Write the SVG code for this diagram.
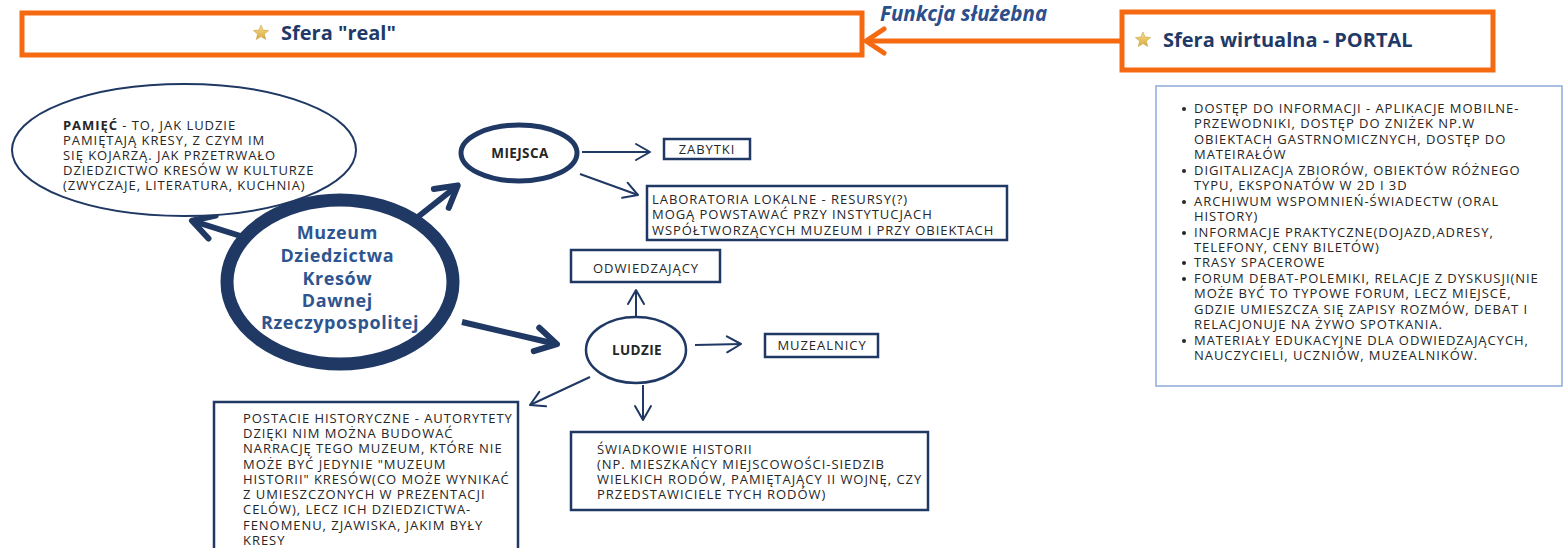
<svg xmlns="http://www.w3.org/2000/svg" width="1564" height="548" viewBox="0 0 1564 548">
<style>
.body{font-family:"Open Sans","Liberation Sans",sans-serif;font-size:13px;letter-spacing:0.95px;fill:#262626}
.bold{font-weight:bold}
.box{fill:#fff;stroke:#1F3864;stroke-width:2.5}
.orange{fill:#fff;stroke:#F56A10;stroke-width:5}
.title{font-family:"Open Sans","Liberation Sans",sans-serif;font-size:20px;font-weight:bold;fill:#1F3A68}
.circ{font-family:"Open Sans","Liberation Sans",sans-serif;font-size:18px;letter-spacing:0.6px;font-weight:bold;fill:#2E5590;text-anchor:middle}
.thin{stroke:#1F3864;stroke-width:2;fill:none;marker-end:url(#mthin)}
.thick{stroke:#1F3864;stroke-width:6;fill:none;marker-end:url(#mthick)}
</style>
<defs>
<linearGradient id="gstar" x1="0" y1="0" x2="0" y2="1"><stop offset="0" stop-color="#F7DF8A"/><stop offset="1" stop-color="#D9A940"/></linearGradient>
<path id="star" d="M0,-8 L2.12,-2.91 L7.61,-2.47 L3.42,1.11 L4.7,6.47 L0,3.6 L-4.7,6.47 L-3.42,1.11 L-7.61,-2.47 L-2.12,-2.91 Z" fill="url(#gstar)" stroke="#C9A24A" stroke-width="0.6"/>
<marker id="mthin" markerUnits="userSpaceOnUse" viewBox="0 0 20 20" markerWidth="20" markerHeight="20" refX="17" refY="10" orient="auto"><path d="M3,2 L17,10 L3,18" fill="none" stroke="#1F3864" stroke-width="2" stroke-linecap="round" stroke-linejoin="round"/></marker>
<marker id="mthick" markerUnits="userSpaceOnUse" viewBox="0 0 32 32" markerWidth="32" markerHeight="32" refX="26" refY="16" orient="auto"><path d="M6,4 L27,16 L6,28" fill="none" stroke="#1F3864" stroke-width="6" stroke-linecap="round" stroke-linejoin="round"/></marker>
<marker id="morange" markerUnits="userSpaceOnUse" viewBox="0 0 28 30" markerWidth="28" markerHeight="30" refX="22" refY="15" orient="auto"><path d="M4,3 L22,15 L4,27" fill="none" stroke="#F56A10" stroke-width="5" stroke-linecap="round" stroke-linejoin="round"/></marker>
</defs>
<rect width="1564" height="548" fill="#fff"/>

<g id="connectors">
<line x1="1122" y1="41" x2="866" y2="41" stroke="#F56A10" stroke-width="5" marker-end="url(#morange)"/>
<line class="thick" x1="250" y1="239" x2="193" y2="221"/>
<line class="thick" x1="414" y1="220" x2="457" y2="186"/>
<line class="thick" x1="462" y1="322" x2="556" y2="344"/>
<line class="thin" x1="582" y1="152" x2="650" y2="152"/>
<line class="thin" x1="580" y1="174" x2="638" y2="195"/>
<line class="thin" x1="636" y1="318" x2="636" y2="290"/>
<line class="thin" x1="695" y1="345" x2="741" y2="344"/>
<line class="thin" x1="590" y1="377" x2="530" y2="405"/>
<line class="thin" x1="643" y1="385" x2="643" y2="420"/>
</g>
<text x="880" y="21" class="title" style="font-style:italic;fill:#2B4F8C;font-size:20.5px">Funkcja służebna</text>

<g id="sfera-real">
<rect class="orange" x="22" y="13" width="840" height="42"/>
<use href="#star" x="261" y="33"/>
<text x="281" y="40" class="title">Sfera "real"</text>
</g>

<g id="sfera-wirtualna">
<rect class="orange" x="1122" y="12" width="371" height="58"/>
<use href="#star" x="1143" y="40"/>
<text x="1163" y="47" class="title">Sfera wirtualna - PORTAL</text>
</g>

<g id="pamiec">
<ellipse cx="184" cy="150" rx="172" ry="66" fill="#fff" stroke="#1F3864" stroke-width="2"/>
<text class="body">
<tspan x="63" y="130"><tspan class="bold">PAMIĘĆ</tspan> - TO, JAK LUDZIE</tspan>
<tspan x="63" y="145">PAMIĘTAJĄ KRESY, Z CZYM IM</tspan>
<tspan x="63" y="160">SIĘ KOJARZĄ. JAK PRZETRWAŁO</tspan>
<tspan x="63" y="175">DZIEDZICTWO KRESÓW W KULTURZE</tspan>
<tspan x="63" y="190">(ZWYCZAJE, LITERATURA, KUCHNIA)</tspan>
</text>
</g>

<g id="muzeum">
<ellipse cx="340" cy="282" rx="113" ry="82" fill="#fff" stroke="#1F3864" stroke-width="13"/>
<text class="circ">
<tspan x="340" y="239">Muzeum</tspan>
<tspan x="340" y="262">Dziedzictwa</tspan>
<tspan x="340" y="285">Kresów</tspan>
<tspan x="340" y="307">Dawnej</tspan>
<tspan x="340" y="329">Rzeczypospolitej</tspan>
</text>
</g>

<g id="miejsca">
<ellipse cx="519" cy="153" rx="58" ry="28" fill="#fff" stroke="#1F3864" stroke-width="5"/>
<text x="520" y="158" class="body bold" text-anchor="middle" style="font-size:13.5px;letter-spacing:0.4px">MIEJSCA</text>
</g>

<g id="zabytki">
<rect class="box" x="664" y="139" width="86" height="20"/>
<text x="707" y="154" class="body" text-anchor="middle">ZABYTKI</text>
</g>

<g id="laboratoria">
<rect class="box" x="647" y="186" width="360" height="54"/>
<text class="body">
<tspan x="652" y="204">LABORATORIA LOKALNE - RESURSY(?)</tspan>
<tspan x="652" y="219">MOGĄ POWSTAWAĆ PRZY INSTYTUCJACH</tspan>
<tspan x="652" y="235">WSPÓŁTWORZĄCYCH MUZEUM I PRZY OBIEKTACH</tspan>
</text>
</g>

<g id="odwiedzajacy">
<rect class="box" x="571" y="250" width="149" height="32"/>
<text x="646" y="273" class="body" text-anchor="middle">ODWIEDZAJĄCY</text>
</g>

<g id="ludzie">
<ellipse cx="636" cy="350" rx="50" ry="33" fill="#fff" stroke="#1F3864" stroke-width="2.5"/>
<text x="637" y="355" class="body bold" text-anchor="middle" style="font-size:13.5px;letter-spacing:0.4px">LUDZIE</text>
</g>

<g id="muzealnicy">
<rect class="box" x="765" y="334" width="113" height="23"/>
<text x="822" y="350" class="body" text-anchor="middle">MUZEALNICY</text>
</g>

<g id="postacie">
<rect class="box" x="214" y="402" width="304" height="160"/>
<text class="body">
<tspan x="243" y="423">POSTACIE HISTORYCZNE - AUTORYTETY</tspan>
<tspan x="243" y="438">DZIĘKI NIM MOŻNA BUDOWAĆ</tspan>
<tspan x="243" y="453">NARRACJĘ TEGO MUZEUM, KTÓRE NIE</tspan>
<tspan x="243" y="469">MOŻE BYĆ JEDYNIE "MUZEUM</tspan>
<tspan x="243" y="484">HISTORII" KRESÓW(CO MOŻE WYNIKAĆ</tspan>
<tspan x="243" y="499">Z UMIESZCZONYCH W PREZENTACJI</tspan>
<tspan x="243" y="514">CELÓW), LECZ ICH DZIEDZICTWA-</tspan>
<tspan x="243" y="530">FENOMENU, ZJAWISKA, JAKIM BYŁY</tspan>
<tspan x="243" y="545">KRESY</tspan>
</text>
</g>

<g id="swiadkowie">
<rect class="box" x="571" y="432" width="357" height="78"/>
<text class="body">
<tspan x="597" y="454">ŚWIADKOWIE HISTORII</tspan>
<tspan x="597" y="469">(NP. MIESZKAŃCY MIEJSCOWOŚCI-SIEDZIB</tspan>
<tspan x="597" y="484">WIELKICH RODÓW, PAMIĘTAJĄCY II WOJNĘ, CZY</tspan>
<tspan x="597" y="499">PRZEDSTAWICIELE TYCH RODÓW)</tspan>
</text>
</g>

<g id="portal-lista">
<rect x="1156" y="86" width="406" height="300" fill="#fff" stroke="#8FAADC" stroke-width="1.5"/>
<g fill="#262626">
<circle cx="1184" cy="109" r="2"/>
<circle cx="1184" cy="171" r="2"/>
<circle cx="1184" cy="202" r="2"/>
<circle cx="1184" cy="233" r="2"/>
<circle cx="1184" cy="263" r="2"/>
<circle cx="1184" cy="279" r="2"/>
<circle cx="1184" cy="341" r="2"/>
</g>
<text class="body">
<tspan x="1194" y="113">DOSTĘP DO INFORMACJI - APLIKACJE MOBILNE-</tspan>
<tspan x="1194" y="128">PRZEWODNIKI, DOSTĘP DO ZNIŻEK NP.W</tspan>
<tspan x="1194" y="144">OBIEKTACH GASTRNOMICZNYCH, DOSTĘP DO</tspan>
<tspan x="1194" y="159">MATEIRAŁÓW</tspan>
<tspan x="1194" y="175">DIGITALIZACJA ZBIORÓW, OBIEKTÓW RÓŻNEGO</tspan>
<tspan x="1194" y="190">TYPU, EKSPONATÓW W 2D I 3D</tspan>
<tspan x="1194" y="206">ARCHIWUM WSPOMNIEŃ-ŚWIADECTW (ORAL</tspan>
<tspan x="1194" y="221">HISTORY)</tspan>
<tspan x="1194" y="237">INFORMACJE PRAKTYCZNE(DOJAZD,ADRESY,</tspan>
<tspan x="1194" y="252">TELEFONY, CENY BILETÓW)</tspan>
<tspan x="1194" y="267">TRASY SPACEROWE</tspan>
<tspan x="1194" y="283">FORUM DEBAT-POLEMIKI, RELACJE Z DYSKUSJI(NIE</tspan>
<tspan x="1194" y="298">MOŻE BYĆ TO TYPOWE FORUM, LECZ MIEJSCE,</tspan>
<tspan x="1194" y="314">GDZIE UMIESZCZA SIĘ ZAPISY ROZMÓW, DEBAT I</tspan>
<tspan x="1194" y="329">RELACJONUJE NA ŻYWO SPOTKANIA.</tspan>
<tspan x="1194" y="345">MATERIAŁY EDUKACYJNE DLA ODWIEDZAJĄCYCH,</tspan>
<tspan x="1194" y="360">NAUCZYCIELI, UCZNIÓW, MUZEALNIKÓW.</tspan>
</text>
</g>
</svg>
